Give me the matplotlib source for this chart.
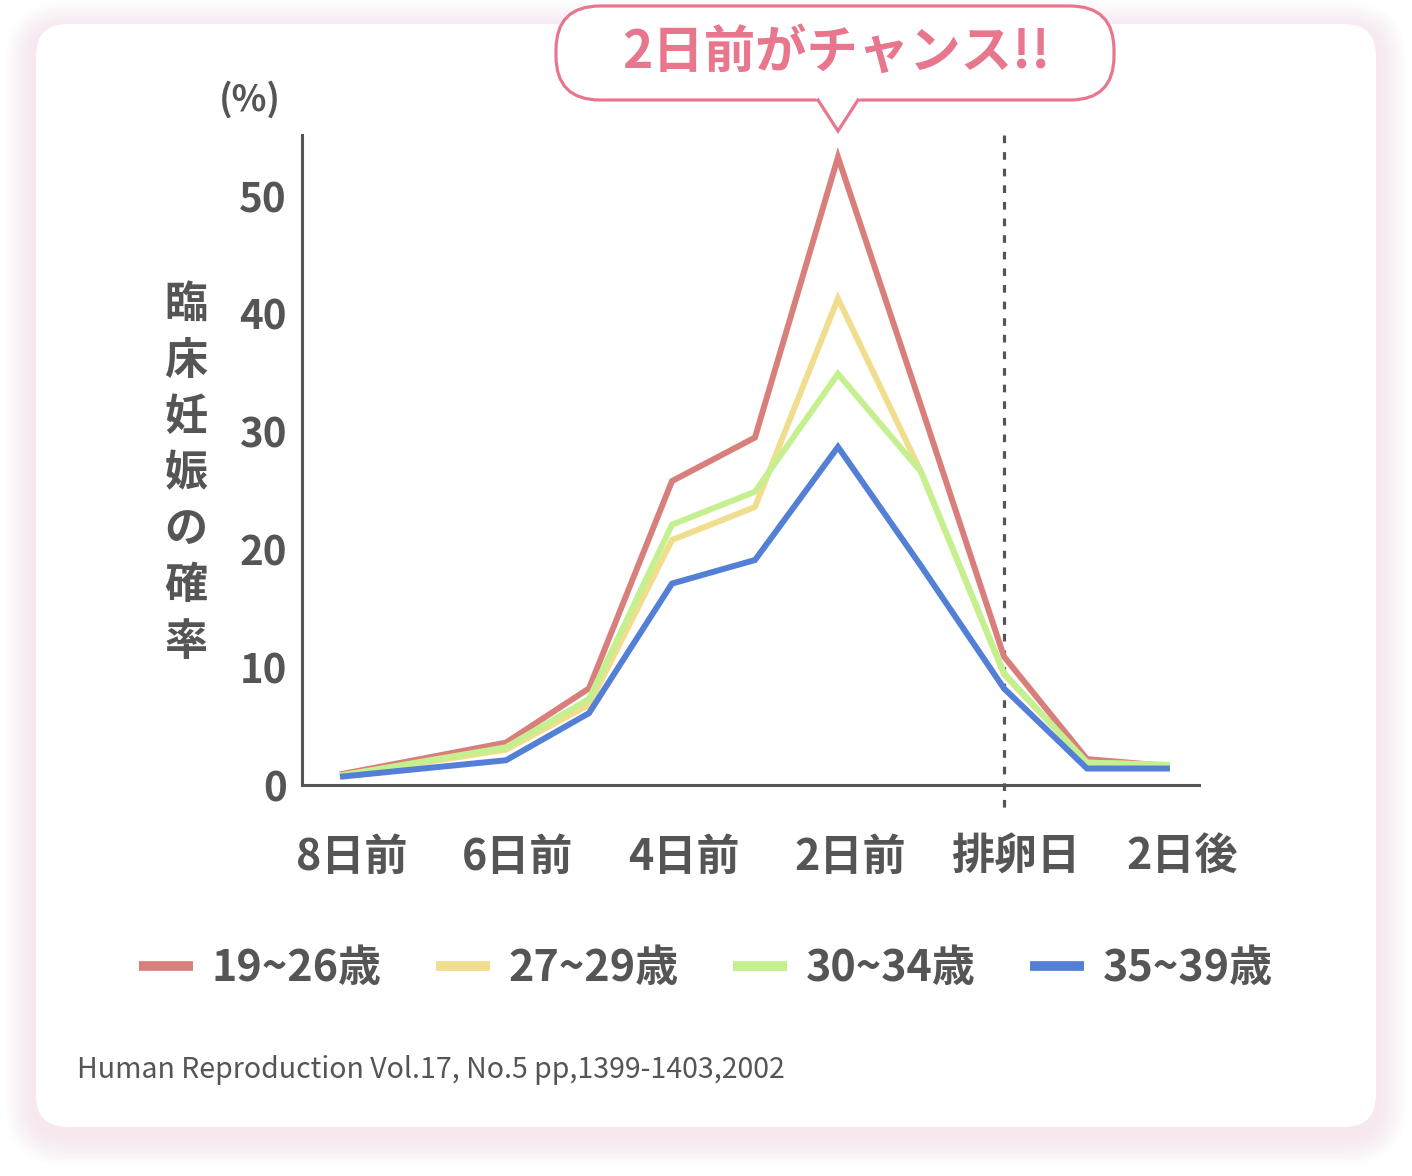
import matplotlib
matplotlib.use("Agg")
import matplotlib.pyplot as plt
from matplotlib.patches import FancyBboxPatch, Polygon
from matplotlib.lines import Line2D
from matplotlib.transforms import ScaledTranslation

plt.rcParams['font.family'] = ['Noto Sans CJK JP', 'DejaVu Sans']

# ---- data ----
days = [-8, -6, -5, -4, -3, -2, -1, 0, 1, 2]
age_19_26 = [0.9, 3.6, 8.2, 25.8, 29.5, 53.3, 32.2, 10.9, 2.2, 1.6]
age_27_29 = [0.8, 3.0, 6.8, 20.8, 23.6, 41.3, 26.6, 9.4, 1.9, 1.7]
age_30_34 = [0.8, 3.2, 7.3, 22.1, 24.9, 34.9, 26.6, 9.5, 1.9, 1.7]
age_35_39 = [0.7, 2.1, 6.1, 17.1, 19.1, 28.7, 18.6, 8.2, 1.4, 1.4]
series_labels = ['19~26歳', '27~29歳', '30~34歳', '35~39歳']
series_colors = ['#d97f7b', '#f0de8e', '#c4f090', '#537fd6']
xtick_pos = [-8, -6, -4, -2, 0, 2]
xtick_labels = ['8日前', '6日前', '4日前', '2日前', '排卵日', '2日後']
ytick_pos = [0, 10, 20, 30, 40, 50]
ytick_labels = ['0', '10', '20', '30', '40', '50']
callout_text = '2日前がチャンス!!'
ylabel_text = '臨床妊娠の確率'
source_text = 'Human Reproduction Vol.17, No.5 pp,1399-1403,2002'

W, H = 1412, 1176
GRAY = '#555555'
PINK = '#e8778d'

fig = plt.figure(figsize=(W / 100, H / 100), dpi=100)
fig.patch.set_facecolor('white')

# background overlay in pixel coordinates
bg = fig.add_axes([0, 0, 1, 1], zorder=0)
bg.set_xlim(0, W)
bg.set_ylim(H, 0)
bg.axis('off')

# soft pink shadow
for i in range(14):
    e = 2 + i * 2.2
    bg.add_patch(FancyBboxPatch((36 - e, 24 - e + 8), 1340 + 2 * e, 1103 + 2 * e,
                                boxstyle=f'round,pad=0,rounding_size={32 + e}',
                                fc='#f7b8c8', ec='none', alpha=0.018))
bg.add_patch(FancyBboxPatch((36, 24), 1340, 1103, boxstyle='round,pad=0,rounding_size=32',
                            fc='white', ec='none'))

# callout bubble
bg.add_patch(FancyBboxPatch((556, 6), 558, 94, boxstyle='round,pad=0,rounding_size=44',
                            fc='white', ec=PINK, lw=2.3))
bg.add_patch(Polygon([(815, 97), (838, 132), (861, 97)], closed=True, fc='white', ec='none'))
bg.plot([818, 838, 858], [100, 131, 100], color=PINK, lw=2.3, solid_joinstyle='miter')
bg.text(836, 52, callout_text, color=PINK, fontsize=37, fontweight='bold',
        ha='center', va='center')

# (%) and vertical ylabel
bg.text(250, 100, '(%)', color=GRAY, fontsize=26, fontweight='bold', ha='center', va='center')
bg.text(186, 473, '\n'.join(ylabel_text), color=GRAY, fontsize=31, fontweight='bold',
        ha='center', va='center', linespacing=1.35)

# source
bg.text(77, 1070, source_text, color=GRAY, fontsize=20.5, ha='left', va='center')

# main axes
ax = fig.add_axes([302 / W, 1 - 785 / H, 897 / W, 650 / H], zorder=2)
ax.patch.set_alpha(0)
ax.set_xlim(-8.458, 2.35)
ax.set_ylim(0, 55.18)

all_series = [age_19_26, age_27_29, age_30_34, age_35_39]
for i, (vals, col, lab) in enumerate(zip(all_series, series_colors, series_labels)):
    ax.plot(days, vals, color=col, lw=4.3, solid_joinstyle='miter', solid_capstyle='butt',
            zorder=3 + i, label=lab)

ax.plot([0, 0], [55.18, -2.55], color=GRAY, lw=2.3, dashes=(2.4, 2.8), clip_on=False, zorder=2)

for s in ['top', 'right']:
    ax.spines[s].set_visible(False)
for s in ['left', 'bottom']:
    ax.spines[s].set_color(GRAY)
    ax.spines[s].set_linewidth(2.2)

ax.set_yticks(ytick_pos)
ax.set_yticklabels(ytick_labels, fontsize=29, fontweight='bold', color=GRAY)
ax.set_xticks(xtick_pos)
ax.set_xticklabels(xtick_labels, fontsize=31, fontweight='bold', color=GRAY)
ax.tick_params(axis='y', length=0, pad=11)
ax.tick_params(axis='x', length=0, pad=36)
off = ScaledTranslation(12 / 100, 0, fig.dpi_scale_trans)
for t in ax.get_xticklabels():
    t.set_transform(t.get_transform() + off)

handles = [Line2D([0], [0], color=c, lw=7, solid_capstyle='butt') for c in series_colors]
leg = ax.legend(handles, series_labels, loc='center', bbox_to_anchor=(706 / W, 1 - 968 / H),
                bbox_transform=fig.transFigure, ncol=4, frameon=False,
                prop={'size': 31, 'weight': 'bold'}, labelcolor=GRAY,
                handlelength=1.25, handletextpad=0.45, columnspacing=1.25)

fig.savefig('out.png', dpi=100, facecolor='white')
